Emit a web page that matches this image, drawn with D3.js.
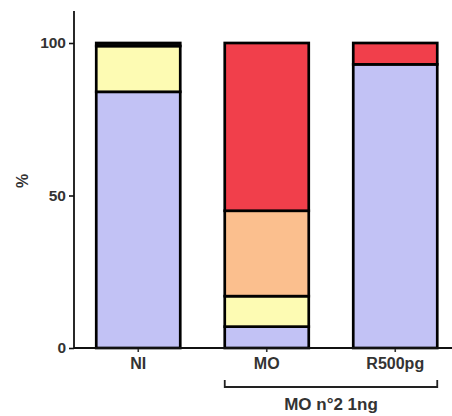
<!DOCTYPE html>
<html>
<head>
<meta charset="utf-8">
<script src="https://cdn.jsdelivr.net/npm/d3@7/dist/d3.min.js"></script>
<style>
  html, body { margin: 0; padding: 0; background: #fff; }
  svg { display: block; }
  text { font-family: "Liberation Sans", Arial, sans-serif; font-weight: bold; fill: #333; }
</style>
</head>
<body>
<svg id="chart" width="452" height="416"></svg>
<script>
// Groups along the x axis
const categories = ["NI", "MO", "R500pg"];
// Stacked segments, bottom to top (percent of embryos)
const segmentKeys = ["lavender", "yellow", "orange", "red", "black"];
const lavender = [84, 7, 93];
const yellow   = [15, 10, 0];
const orange   = [0, 28, 0];
const red      = [0, 55, 7];
const black    = [1, 0, 0];
const yTicks = [0, 50, 100];
const bracketLabel = "MO n°2 1ng";
const bracketGroups = ["MO", "R500pg"];

const colors = {
  lavender: "#c2c2f5",
  yellow: "#fdfbb3",
  orange: "#fbbf8e",
  red: "#f13f4b",
  black: "#111111"
};

const rows = categories.map((c, i) => ({
  cat: c,
  lavender: lavender[i], yellow: yellow[i], orange: orange[i], red: red[i], black: black[i]
}));

const svg = d3.select("#chart");
const x0 = 74, yBase = 348, yTop = 43;

const x = d3.scaleBand().domain(categories).range([x0, x0 + 3 * 128.5]).padding(0);
const barW = 84;
const y = d3.scaleLinear().domain([0, 100]).range([yBase, yTop]);

const stack = d3.stack().keys(segmentKeys)(rows);

// Bar segments
const g = svg.append("g");
stack.forEach(layer => {
  g.selectAll(null)
    .data(layer.filter(d => d[1] - d[0] > 0))
    .join("rect")
    .attr("x", d => x(d.data.cat) + x.bandwidth() / 2 - barW / 2)
    .attr("width", barW)
    .attr("y", d => y(d[1]))
    .attr("height", d => y(d[0]) - y(d[1]))
    .attr("fill", colors[layer.key])
    .attr("stroke", "#000")
    .attr("stroke-width", 2.7);
});

// Y axis
const yAxis = svg.append("g")
  .attr("transform", `translate(${x0},0)`)
  .call(d3.axisLeft(y).tickValues(yTicks).tickSize(5).tickPadding(3));
yAxis.select(".domain").remove();
yAxis.selectAll(".tick line").attr("stroke", "#111").attr("stroke-width", 1.6);
yAxis.selectAll(".tick text")
  .style("font-size", "15.5px")
  .style("font-family", "'Liberation Sans', Arial, sans-serif")
  .style("font-weight", "bold")
  .attr("fill", "#333");
svg.append("line")
  .attr("x1", x0).attr("x2", x0)
  .attr("y1", yBase + 0.8).attr("y2", 11)
  .attr("stroke", "#111").attr("stroke-width", 1.8);

// X axis
const xAxis = svg.append("g")
  .attr("transform", `translate(0,${yBase})`)
  .call(d3.axisBottom(x).tickSize(4).tickPadding(6));
xAxis.select(".domain").remove();
xAxis.selectAll(".tick line").attr("stroke", "#333").attr("stroke-width", 1.6);
xAxis.selectAll(".tick text")
  .style("font-size", "16px")
  .style("font-family", "'Liberation Sans', Arial, sans-serif")
  .style("font-weight", "bold")
  .attr("fill", "#333");
svg.append("line")
  .attr("x1", x0).attr("x2", 452)
  .attr("y1", yBase).attr("y2", yBase)
  .attr("stroke", "#111").attr("stroke-width", 1.8);

// Y label
svg.append("text")
  .attr("transform", "translate(28,181) rotate(-90)")
  .attr("text-anchor", "middle")
  .style("font-size", "16px")
  .text("%");

// Bracket grouping MO and R500pg
const bx1 = x(bracketGroups[0]) + x.bandwidth() / 2 - barW / 2;
const bx2 = x(bracketGroups[1]) + x.bandwidth() / 2 + barW / 2;
const by = 387;
svg.append("path")
  .attr("d", `M${bx1},${by - 7}V${by}H${bx2}V${by - 7}`)
  .attr("fill", "none")
  .attr("stroke", "#222")
  .attr("stroke-width", 1.8);
svg.append("text")
  .attr("x", (bx1 + bx2) / 2)
  .attr("y", 410)
  .attr("text-anchor", "middle")
  .style("font-size", "17px")
  .text(bracketLabel);
</script>
</body>
</html>
